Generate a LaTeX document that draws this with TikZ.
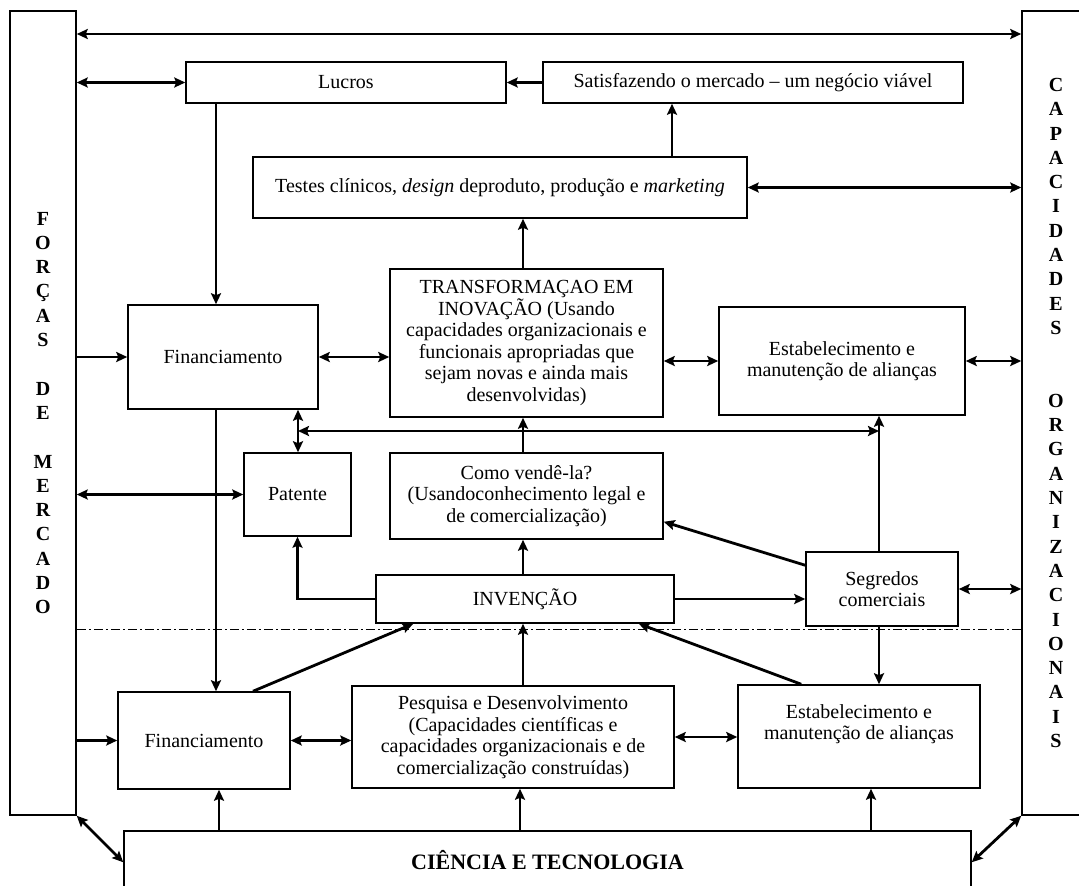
\documentclass[tikz,border=0pt]{standalone}
\usepackage{fontspec}
\setmainfont{Liberation Serif}
\usetikzlibrary{arrows.meta}

\tikzset{
  bloco/.style={draw, line width=1.5pt, inner sep=0pt, align=center,
    font=\fontsize{20}{21.5}\selectfont},
  lateral/.style={bloco, font=\fontsize{20}{24.3}\selectfont\bfseries},
  ponta/.tip={Stealth[length=11pt,width=10pt,inset=2pt]},
  seta/.style={line width=2.8pt, -ponta},
  dupla/.style={line width=2.8pt, ponta-ponta},
  divisa/.style={line width=1pt, dash pattern=on 9pt off 3pt on 2pt off 3pt},
}

\begin{document}
\begin{tikzpicture}[x=1pt,y=-1pt]
	\useasboundingbox (0,0) rectangle (1079,886);
	\clip (0,0) rectangle (1079,886);
	\fill[white] (0,0) rectangle (1079,886);

	% linhas auxiliares
	\coordinate (topline) at (540,34);
	\coordinate (midline) at (540,431);
	\coordinate (sepline) at (540,629);
	\coordinate (xtestes) at (672,0);
	\coordinate (xfin) at (216,0);
	\coordinate (xinv) at (523,0);
	\coordinate (xpat) at (298,0);
	\coordinate (xseg) at (879,0);
	\coordinate (xct1) at (219,0);
	\coordinate (xct2) at (520,0);
	\coordinate (xct3) at (871,0);

	% colunas laterais
	\node[lateral, minimum width=66pt, minimum height=804pt] (forcas) at (43,413)
		{F\\O\\R\\Ç\\A\\S\\~\\D\\E\\~\\M\\E\\R\\C\\A\\D\\O};
	\node[lateral, minimum width=68pt, minimum height=804pt] (capac) at (1056,413)
		{C\\A\\P\\A\\C\\I\\D\\A\\D\\E\\S\\~\\~\\O\\R\\G\\A\\N\\I\\Z\\A\\C\\I\\O\\N\\A\\I\\S};

	% blocos
	\node[bloco, minimum width=320pt, minimum height=41pt] (lucros) at (346,82.5) {Lucros};
	\node[bloco, minimum width=420pt, minimum height=41pt] (satisf) at (753,82.5)
		{Satisfazendo o mercado -- um negócio viável};
	\node[bloco, minimum width=494pt, minimum height=61pt] (testes) at (500,187.5)
		{Testes clínicos, \textit{design} deproduto, produção e \textit{marketing}};
	\node[bloco, minimum width=190pt, minimum height=104pt] (fin1) at (223,357) {Financiamento};
	\node[bloco, minimum width=273pt, minimum height=148pt] (transf) at (526.5,343)
		{TRANSFORMAÇAO EM\\INOVAÇÃO (Usando\\capacidades organizacionais e\\funcionais apropriadas que\\sejam novas e ainda mais\\desenvolvidas)};
	\node[bloco, minimum width=246pt, minimum height=108pt] (estab1) at (842,361)
		{Estabelecimento e\\manutenção de alianças};
	\node[bloco, minimum width=107pt, minimum height=83pt] (patente) at (297.5,494.5) {Patente};
	\node[bloco, minimum width=273pt, minimum height=86pt] (como) at (526.5,496)
		{Como vendê-la?\\(Usandoconhecimento legal e\\de comercialização)};
	\node[bloco, minimum width=298pt, minimum height=48pt] (invencao) at (525,599) {INVENÇÃO};
	\node[bloco, minimum width=152pt, minimum height=74pt] (segredos) at (882,589)
		{Segredos\\comerciais};
	\node[bloco, minimum width=172pt, minimum height=97pt] (fin2) at (204,740.5) {Financiamento};
	\node[bloco, minimum width=322pt, minimum height=102pt] (pesq) at (513,737)
		{Pesquisa e Desenvolvimento\\(Capacidades científicas e\\capacidades organizacionais e de\\comercialização construídas)};
	\node[bloco, minimum width=242pt, minimum height=103pt] (estab2) at (859,736.5) {};
	\node[align=center, inner sep=0pt, anchor=north, font=\fontsize{20}{21.5}\selectfont]
		(estab2txt) at ([yshift=-20pt]estab2.north) {Estabelecimento e\\manutenção de alianças};
	\node[bloco, minimum width=847pt, minimum height=58pt, font=\fontsize{22}{24}\selectfont\bfseries]
		(ct) at (547.5,860) {CIÊNCIA E TECNOLOGIA};

	% conexoes
	\draw[divisa] (forcas.east |- sepline) -- (capac.west |- sepline);
	\draw[dupla] (forcas.east |- topline) -- (capac.west |- topline);
	\draw[dupla] (forcas.east |- lucros) -- (lucros.west);
	\draw[seta] (satisf.west) -- (lucros.east);
	\draw[seta] (testes.north -| xtestes) -- (satisf.south -| xtestes);
	\draw[dupla] (testes.east) -- (capac.west |- testes.east);
	\draw[seta] (lucros.south -| xfin) -- (fin1.north -| xfin);
	\draw[seta] (fin1.south -| xfin) -- (fin2.north -| xfin);
	\draw[seta] (forcas.east |- fin1) -- (fin1.west);
	\draw[dupla] (fin1.east) -- (transf.west |- fin1.east);
	\draw[seta] (transf.north -| xinv) -- (testes.south -| xinv);
	\draw[dupla] (transf.east |- estab1) -- (estab1.west);
	\draw[dupla] (estab1.east) -- (capac.west |- estab1.east);
	\draw[dupla] (fin1.south -| xpat) -- (patente.north -| xpat);
	\draw[dupla] (xpat |- midline) -- (xseg |- midline);
	\draw[seta] (como.north -| xinv) -- (transf.south -| xinv);
	\draw[seta] (segredos.north -| xseg) -- (estab1.south -| xseg);
	\draw[dupla] (forcas.east |- patente) -- (patente.west);
	\draw[seta] ([yshift=-14pt]segredos.north west) -- ([yshift=18pt]como.south east);
	\draw[seta] (invencao.north -| xinv) -- (como.south -| xinv);
	\draw[seta] (invencao.west) -| (patente.south);
	\draw[seta] (invencao.east) -- (segredos.west |- invencao.east);
	\draw[dupla] (segredos.east) -- (capac.west |- segredos.east);
	\draw[seta] (forcas.east |- fin2) -- (fin2.west);
	\draw[dupla] (fin2.east) -- (pesq.west |- fin2.east);
	\draw[dupla] (pesq.east) -- (estab2.west |- pesq.east);
	\draw[seta] ([xshift=49pt]fin2.north) -- ([xshift=38pt]invencao.south west);
	\draw[seta] (pesq.north -| xinv) -- (invencao.south -| xinv);
	\draw[seta] ([xshift=64pt]estab2.north west) -- ([xshift=-36pt]invencao.south east);
	\draw[seta] (segredos.south -| xseg) -- (estab2.north -| xseg);
	\draw[seta] (ct.north -| xct1) -- (fin2.south -| xct1);
	\draw[seta] (ct.north -| xct2) -- (pesq.south -| xct2);
	\draw[seta] (ct.north -| xct3) -- (estab2.south -| xct3);
	\draw[dupla] (forcas.south east) -- ([yshift=-32pt]ct.north west);
	\draw[dupla] (capac.south west) -- ([yshift=-32pt]ct.north east);
\end{tikzpicture}
\end{document}
